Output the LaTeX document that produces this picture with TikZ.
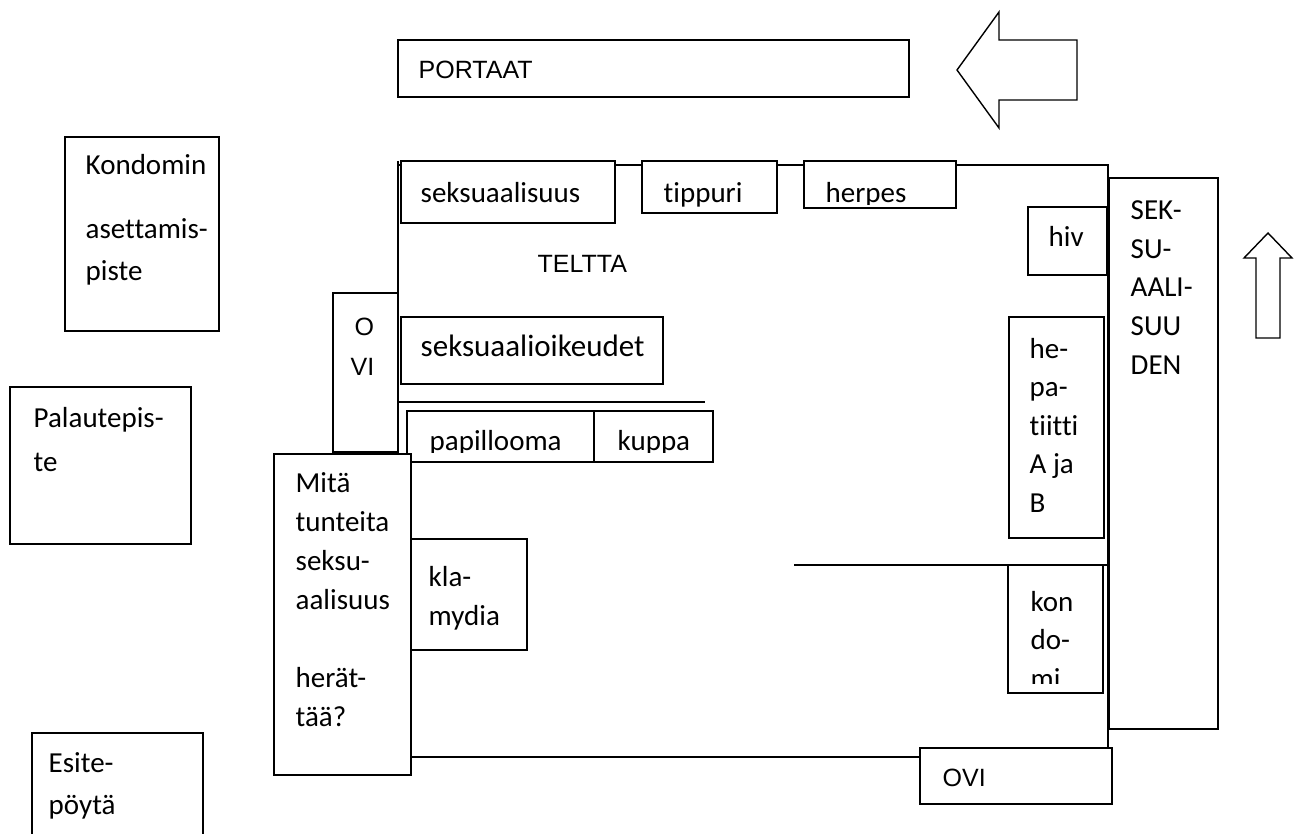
\documentclass[tikz,border=0pt]{standalone}
\usepackage{fontspec}
\setmainfont{Carlito}[Ligatures=CommonOff]
\newfontfamily\arialfont{Liberation Sans}

\begin{document}
\begin{tikzpicture}[x=1pt, y=-1pt, line width=1.4pt, line join=miter,
  box/.style={draw, fill=white},
  lbl/.style={anchor=base west, inner sep=0pt, font=\fontsize{29}{38.5}\selectfont},
  lbla/.style={anchor=base west, inner sep=0pt, font=\arialfont\fontsize{25}{30}\selectfont}]

  %% ════ tent walls ════
  \draw (398,161) -- (398,757) -- (920,757);
  \draw (398,165) -- (1108,165) -- (1108,748);
  \draw (398,402) -- (705,402);
  \draw (794,565) -- (1108,565);

  %% ════ arrows ════
  \draw[fill=white] (957,70) -- (999,12) -- (999,40) -- (1077,40) -- (1077,100) -- (999,100) -- (999,128) -- cycle;
  \draw[fill=white] (1268,233) -- (1292,258) -- (1280,258) -- (1280,338) -- (1256,338) -- (1256,258) -- (1244,258) -- cycle;

  %% ════ boxes ════
  \draw[box] (398,40) rectangle (909,97);     % PORTAAT
  \draw[box] (65,137) rectangle (219,331);    % Kondomin
  \draw[box] (10,387) rectangle (191,544);    % Palautepiste
  \draw[box] (32,733) rectangle (203,840);    % Esitepöytä
  \draw[box] (401,161) rectangle (615,223);   % seksuaalisuus
  \draw[box] (642,161) rectangle (777,213);   % tippuri
  \draw[box] (804,161) rectangle (956,208);   % herpes
  \draw[box] (1028,207) rectangle (1107,275); % hiv
  \draw[box] (1109,178) rectangle (1218,729); % SEKSUAALISUUDEN
  \draw[box] (333,293) rectangle (398,452);   % O VI
  \draw[box] (401,317) rectangle (663,384);   % seksuaalioikeudet
  \draw[box] (407,411) rectangle (594,462);   % papillooma
  \draw[box] (594,411) rectangle (713,462);   % kuppa
  \draw[box] (1009,317) rectangle (1104,538); % hepatiitti
  \draw[box] (274,454) rectangle (411,775);   % Mitä tunteita
  \draw[box] (411,539) rectangle (527,650);   % klamydia
  \draw[box] (1008,565) rectangle (1103,693); % kondomi
  \draw[box] (920,748) rectangle (1112,804);  % OVI

  %% ════ labels ════
  \node[lbla] (portaat) at (418,79) {PORTAAT};
  \node[lbla] (teltta) at (537,273) {TELTTA};
  \node[lbla] (ovia) at (354,336) {O};
  \node[lbla] (ovib) at (350,375) {VI};
  \node[lbla] (ovi) at (942,786) {OVI};

  \node[lbl] (kond1) at (85,175) {Kondomin};
  \node[lbl] (kond2) at (85,239) {asettamis-};
  \node[lbl] (kond3) at (85,281) {piste};
  \node[lbl] (pal1) at (33,427) {Palautepis-};
  \node[lbl] (pal2) at (33,471) {te};
  \node[lbl] (esi1) at (48,772) {Esite-};
  \node[lbl] (esi2) at (48,814) {pöytä};

  \node[lbl] (seks) at (420,203) {seksuaalisuus};
  \node[lbl] (tipp) at (663,203) {tippuri};
  \node[lbl, font=\fontsize{31}{38.5}\selectfont] (oik) at (420,356) {seksuaalioikeudet};
  \node[lbl] (hiv) at (1048,247) {hiv};

  % clipped texts (cut off by their frames)
  \begin{scope}
    \clip (804,161) rectangle (956,205);
    \node[lbl] (herp) at (825,203) {herpes};
  \end{scope}
  \begin{scope}
    \clip (407,411) rectangle (713,452);
    \node[lbl] (papi) at (429,450) {papillooma};
    \node[lbl] (kupp) at (617,450) {kuppa};
  \end{scope}

  \foreach \t [count=\i from 0] in {SEK-,SU-,AALI-,SUU,DEN}
    \node[lbl] (sek\i) at (1130,220+38.5*\i) {\t};

  \foreach \t [count=\i from 0] in {he-,pa-,tiitti,A ja,B}
    \node[lbl] (hep\i) at (1029,358+38.5*\i) {\t};

  \node[lbl] (kon0) at (1030,611) {kon};
  \node[lbl] (kon1) at (1030,649.5) {do-};
  \begin{scope}
    \clip (1008,565) rectangle (1103,683);
    \node[lbl] (kon2) at (1030,688) {mi};
  \end{scope}

  \foreach \t [count=\i from 0] in {Mitä,tunteita,seksu-,aalisuus}
    \node[lbl] (mita\i) at (295,492+39*\i) {\t};
  \node[lbl] (mita4) at (295,687) {herät-};
  \node[lbl] (mita5) at (295,726) {tää?};

  \node[lbl] (kla0) at (428,586) {kla-};
  \node[lbl] (kla1) at (428,625) {mydia};

  \pgfresetboundingbox
  \path[use as bounding box] (0,0) rectangle (1304,834);
\end{tikzpicture}
\end{document}
